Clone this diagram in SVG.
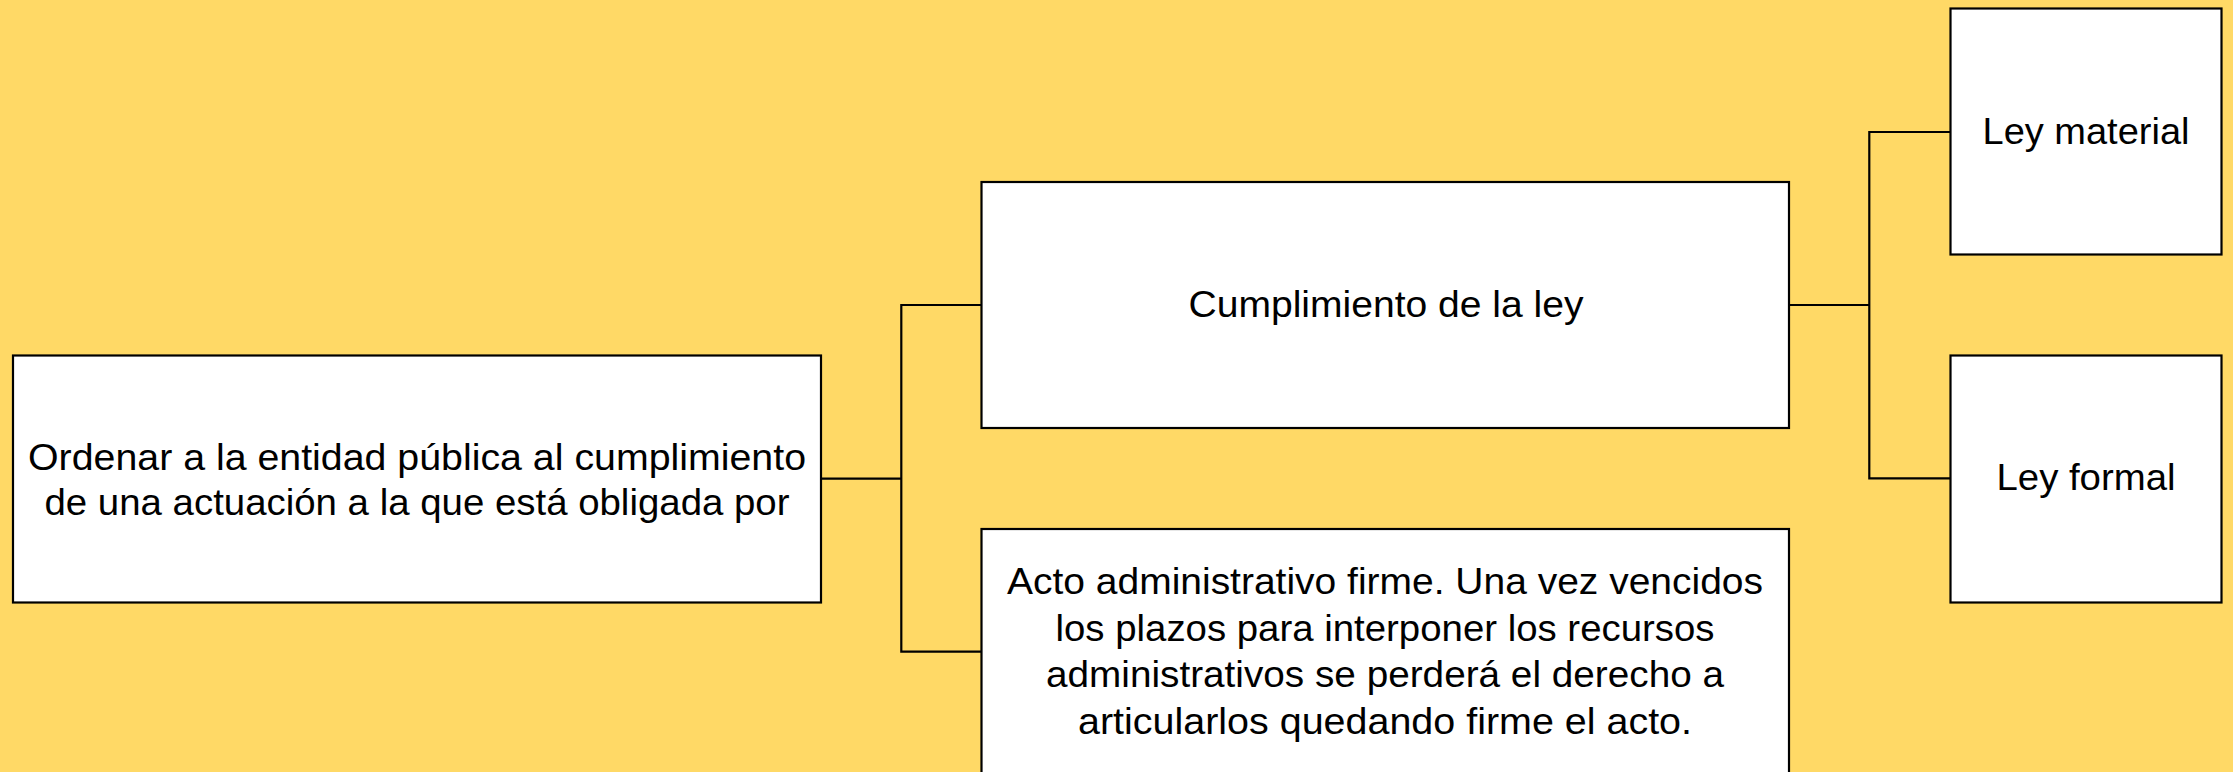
<svg xmlns="http://www.w3.org/2000/svg" width="2233" height="772" viewBox="0 0 2233 772">
<style>
.bg{fill:#FFD966}
.box{fill:#FFFFFF;stroke:#000000;stroke-width:2.2}
.conn{fill:none;stroke:#000000;stroke-width:2.2}
.t{font-family:"Liberation Sans",Arial,sans-serif;font-size:36px;fill:#000000;text-anchor:middle}
</style>
<rect class="bg" x="0" y="0" width="2233" height="772"/>
<g id="connectors">
<path class="conn" d="M821 478.7 H901.3 M901.3 305 V651.7 M900.2 305 H981.5 M900.2 651.7 H981.5"/>
<path class="conn" d="M1789 305 H1869.3 M1869.3 132 V478.3 M1868.2 132 H1950.5 M1868.2 478.3 H1950.5"/>
</g>
<g id="node-ordenar">
<rect class="box" x="13" y="355.5" width="808" height="247"/>
<text class="t" x="417" y="470" textLength="778" lengthAdjust="spacingAndGlyphs">Ordenar a la entidad pública al cumplimiento</text>
<text class="t" x="417" y="515" textLength="745" lengthAdjust="spacingAndGlyphs">de una actuación a la que está obligada por</text>
</g>
<g id="node-cumplimiento">
<rect class="box" x="981.5" y="182" width="807.5" height="246"/>
<text class="t" x="1386" y="317" textLength="395" lengthAdjust="spacingAndGlyphs">Cumplimiento de la ley</text>
</g>
<g id="node-acto">
<rect class="box" x="981.5" y="529" width="807.5" height="260"/>
<text class="t" x="1385" y="594" textLength="756" lengthAdjust="spacingAndGlyphs">Acto administrativo firme. Una vez vencidos</text>
<text class="t" x="1385" y="641" textLength="659" lengthAdjust="spacingAndGlyphs">los plazos para interponer los recursos</text>
<text class="t" x="1385" y="687" textLength="678" lengthAdjust="spacingAndGlyphs">administrativos se perderá el derecho a</text>
<text class="t" x="1385" y="734" textLength="614" lengthAdjust="spacingAndGlyphs">articularlos quedando firme el acto.</text>
</g>
<g id="node-ley-material">
<rect class="box" x="1950.5" y="8.5" width="271" height="246"/>
<text class="t" x="2086" y="144" textLength="207" lengthAdjust="spacingAndGlyphs">Ley material</text>
</g>
<g id="node-ley-formal">
<rect class="box" x="1950.5" y="355.5" width="271" height="247"/>
<text class="t" x="2086" y="490" textLength="179" lengthAdjust="spacingAndGlyphs">Ley formal</text>
</g>
</svg>
